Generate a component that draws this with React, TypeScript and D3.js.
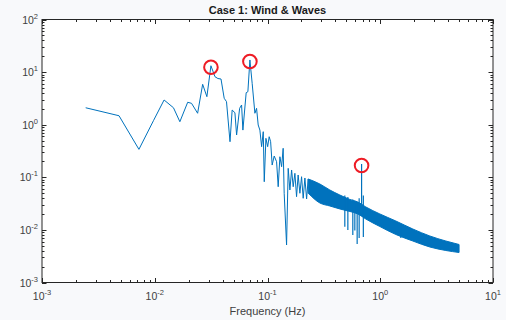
import React, { useEffect, useRef } from 'react';
import * as d3 from 'd3';

const W = 506;
const H = 320;

// low / mid frequency part of the spectrum (Hz, PSD)
const freq = [
  0.00244, 0.00482, 0.00724, 0.00977, 0.0121, 0.01466, 0.0167, 0.0196, 0.0212, 0.024,
  0.0266, 0.029, 0.0315, 0.0342, 0.0363, 0.0387, 0.0413, 0.0433, 0.0465, 0.0486,
  0.0514, 0.0532, 0.0566, 0.0589, 0.0605, 0.0647, 0.067, 0.0698, 0.0731, 0.0773,
  0.08, 0.0827, 0.0856, 0.0887, 0.0917, 0.0936, 0.0968, 0.1003, 0.1035, 0.1066,
  0.11, 0.1147, 0.1204, 0.1244, 0.1288, 0.1334, 0.1377, 0.1406, 0.1476, 0.1526,
  0.158, 0.1636, 0.169, 0.175, 0.181, 0.187, 0.1938, 0.2005, 0.2073, 0.2146,
  0.2222, 0.2296,
];
const psd = [
  2.1, 1.48, 0.34, 1.21, 2.95, 2.1, 1.14, 2.67, 2.55, 1.65,
  5.86, 3.41, 13.2, 8.18, 7.55, 7.39, 3.18, 2.74, 0.475, 1.9,
  1.69, 0.637, 2.05, 2.37, 0.79, 4.06, 4.24, 17.0, 6.12, 1.65,
  2.05, 0.987, 0.79, 0.382, 0.736, 0.0824, 0.551, 0.382, 0.591, 0.475,
  0.171, 0.254, 0.198, 0.0662, 0.246, 0.159, 0.356, 0.0497, 0.00516, 0.148,
  0.0574, 0.1377, 0.0662, 0.119, 0.0428, 0.1106, 0.0497, 0.1026, 0.0399, 0.097,
  0.0387, 0.0929,
];

// dense high frequency part, drawn as an envelope
const bandFreq = [0.2296, 0.2913, 0.357, 0.438, 0.538, 0.633, 0.745, 0.992, 1.375, 1.945, 2.753, 3.816, 5.0];
const bandTop = [0.0929, 0.0746, 0.0574, 0.0461, 0.0379, 0.0339, 0.0273, 0.0201, 0.01476, 0.0104, 0.00766, 0.00615, 0.00528];
const bandBottom = [0.05, 0.0325, 0.0285, 0.025, 0.0224, 0.0201, 0.0161, 0.0116, 0.00818, 0.00615, 0.00473, 0.00406, 0.00372];

// isolated spikes sticking out of the band
const spikeFreq = [0.485, 0.516, 0.571, 0.595, 0.624, 0.65, 0.683, 0.708, 1.522];
const spikeTop = [0.045, 0.042, 0.038, 0.036, 0.034, 0.04, 0.179, 0.045, 0.012];
const spikeBottom = [0.0115, 0.01, 0.008, 0.0097, 0.0054, 0.007, 0.02, 0.0073, 0.007];

// circled peaks
const peakFreq = [0.0315, 0.0698, 0.683];
const peakPsd = [13.2, 17.0, 0.179];

const xMajor = [1e-3, 1e-2, 1e-1, 1e0, 1e1];
const xExp = ['-3', '-2', '-1', '0', '1'];
const yMajor = [1e-3, 1e-2, 1e-1, 1e0, 1e1, 1e2];
const yExp = ['-3', '-2', '-1', '0', '1', '2'];

const BLUE = '#0072bd';
const AXIS = '#262626';
const FONT = '"Liberation Sans", Arial, Helvetica, sans-serif';

export default function App() {
  const svgRef = useRef<SVGSVGElement>(null);

  useEffect(() => {
    if (!svgRef.current) return;
    const svg = d3.select(svgRef.current);
    svg.selectAll('*').remove();

    const margin = { top: 19.5, right: 13, bottom: 37.5, left: 42 };
    const x = d3.scaleLog().domain([1e-3, 1e1]).range([margin.left, W - margin.right]);
    const y = d3.scaleLog().domain([1e-3, 1e2]).range([H - margin.bottom, margin.top]);
    const [x0, x1] = x.range();
    const [y0, y1] = y.range();

    svg.append('rect').attr('width', W).attr('height', H).attr('fill', '#f8f9fb');
    svg
      .append('rect')
      .attr('x', x0)
      .attr('y', y1)
      .attr('width', x1 - x0)
      .attr('height', y0 - y1)
      .attr('fill', '#fff');

    const plot = svg.append('g');

    // band
    const bandData = bandFreq.map((f, i) => ({ f, t: bandTop[i], b: bandBottom[i] }));
    plot
      .append('path')
      .datum(bandData)
      .attr('fill', BLUE)
      .attr('stroke', BLUE)
      .attr('stroke-width', 1)
      .attr(
        'd',
        d3
          .area<{ f: number; t: number; b: number }>()
          .x((d) => x(d.f))
          .y0((d) => y(d.b))
          .y1((d) => y(d.t))
          .curve(d3.curveMonotoneX)
      );

    // line
    const lineData = freq.map((f, i) => ({ f, v: psd[i] }));
    plot
      .append('path')
      .datum(lineData)
      .attr('fill', 'none')
      .attr('stroke', BLUE)
      .attr('stroke-width', 1)
      .attr('stroke-linejoin', 'round')
      .attr(
        'd',
        d3
          .line<{ f: number; v: number }>()
          .x((d) => x(d.f))
          .y((d) => y(d.v))
      );

    // spikes
    plot
      .selectAll('.spike')
      .data(spikeFreq)
      .enter()
      .append('line')
      .attr('class', 'spike')
      .attr('x1', (d) => x(d))
      .attr('x2', (d) => x(d))
      .attr('y1', (d, i) => y(spikeTop[i]))
      .attr('y2', (d, i) => y(spikeBottom[i]))
      .attr('stroke', BLUE)
      .attr('stroke-width', 1.2);

    // peak markers
    plot
      .selectAll('.peak')
      .data(peakFreq)
      .enter()
      .append('circle')
      .attr('class', 'peak')
      .attr('cx', (d) => x(d))
      .attr('cy', (d, i) => y(peakPsd[i]) + 1.5)
      .attr('r', 6.8)
      .attr('fill', 'none')
      .attr('stroke', '#ee1c25')
      .attr('stroke-width', 2);

    // box
    const axes = svg.append('g');
    axes
      .append('rect')
      .attr('x', x0)
      .attr('y', y1)
      .attr('width', x1 - x0)
      .attr('height', y0 - y1)
      .attr('fill', 'none')
      .attr('stroke', AXIS)
      .attr('stroke-width', 1);

    const minorOf = (majors: number[]) => {
      const out: number[] = [];
      majors.slice(0, -1).forEach((m) => {
        for (let k = 2; k <= 9; k++) out.push(m * k);
      });
      return out;
    };

    const majorLen = 4.5;
    const minorLen = 2.5;
    const tickG = axes.append('g').attr('stroke', AXIS).attr('stroke-width', 1);

    const xTicks = [
      ...xMajor.map((v) => ({ v, len: majorLen })),
      ...minorOf(xMajor).map((v) => ({ v, len: minorLen })),
    ];
    xTicks.forEach(({ v, len }) => {
      const px = Math.round(x(v)) + 0.5;
      tickG.append('line').attr('x1', px).attr('x2', px).attr('y1', y0).attr('y2', y0 - len);
      tickG.append('line').attr('x1', px).attr('x2', px).attr('y1', y1).attr('y2', y1 + len);
    });

    const yTicks = [
      ...yMajor.map((v) => ({ v, len: majorLen })),
      ...minorOf(yMajor).map((v) => ({ v, len: minorLen })),
    ];
    yTicks.forEach(({ v, len }) => {
      const py = Math.round(y(v)) + 0.5;
      tickG.append('line').attr('x1', x0).attr('x2', x0 + len).attr('y1', py).attr('y2', py);
      tickG.append('line').attr('x1', x1).attr('x2', x1 - len).attr('y1', py).attr('y2', py);
    });

    // tick labels
    const labelColor = '#404040';
    xMajor.forEach((v, i) => {
      const t = axes
        .append('text')
        .attr('x', x(v))
        .attr('y', y0 + 17.5)
        .attr('text-anchor', 'middle')
        .attr('font-family', FONT)
        .attr('font-size', 10.5)
        .attr('fill', labelColor);
      t.append('tspan').text('10');
      t.append('tspan').attr('dy', -5).attr('font-size', 7.5).text(xExp[i]);
    });

    yMajor.forEach((v, i) => {
      const t = axes
        .append('text')
        .attr('x', x0 - 4)
        .attr('y', y(v) + 4)
        .attr('text-anchor', 'end')
        .attr('font-family', FONT)
        .attr('font-size', 10.5)
        .attr('fill', labelColor);
      t.append('tspan').text('10');
      t.append('tspan').attr('dy', -5).attr('font-size', 7.5).text(yExp[i]);
    });

    // title and axis label
    svg
      .append('text')
      .attr('x', (x0 + x1) / 2)
      .attr('y', 14)
      .attr('text-anchor', 'middle')
      .attr('font-family', FONT)
      .attr('font-size', 11)
      .attr('font-weight', 'bold')
      .attr('fill', '#1a1a1a')
      .text('Case 1: Wind & Waves');

    svg
      .append('text')
      .attr('x', (x0 + x1) / 2)
      .attr('y', 314.5)
      .attr('text-anchor', 'middle')
      .attr('font-family', FONT)
      .attr('font-size', 11)
      .attr('fill', labelColor)
      .text('Frequency (Hz)');
  }, []);

  return (
    <svg
      ref={svgRef}
      width={W}
      height={H}
      style={{ position: 'absolute', left: 0, top: 0, display: 'block' }}
    />
  );
}
